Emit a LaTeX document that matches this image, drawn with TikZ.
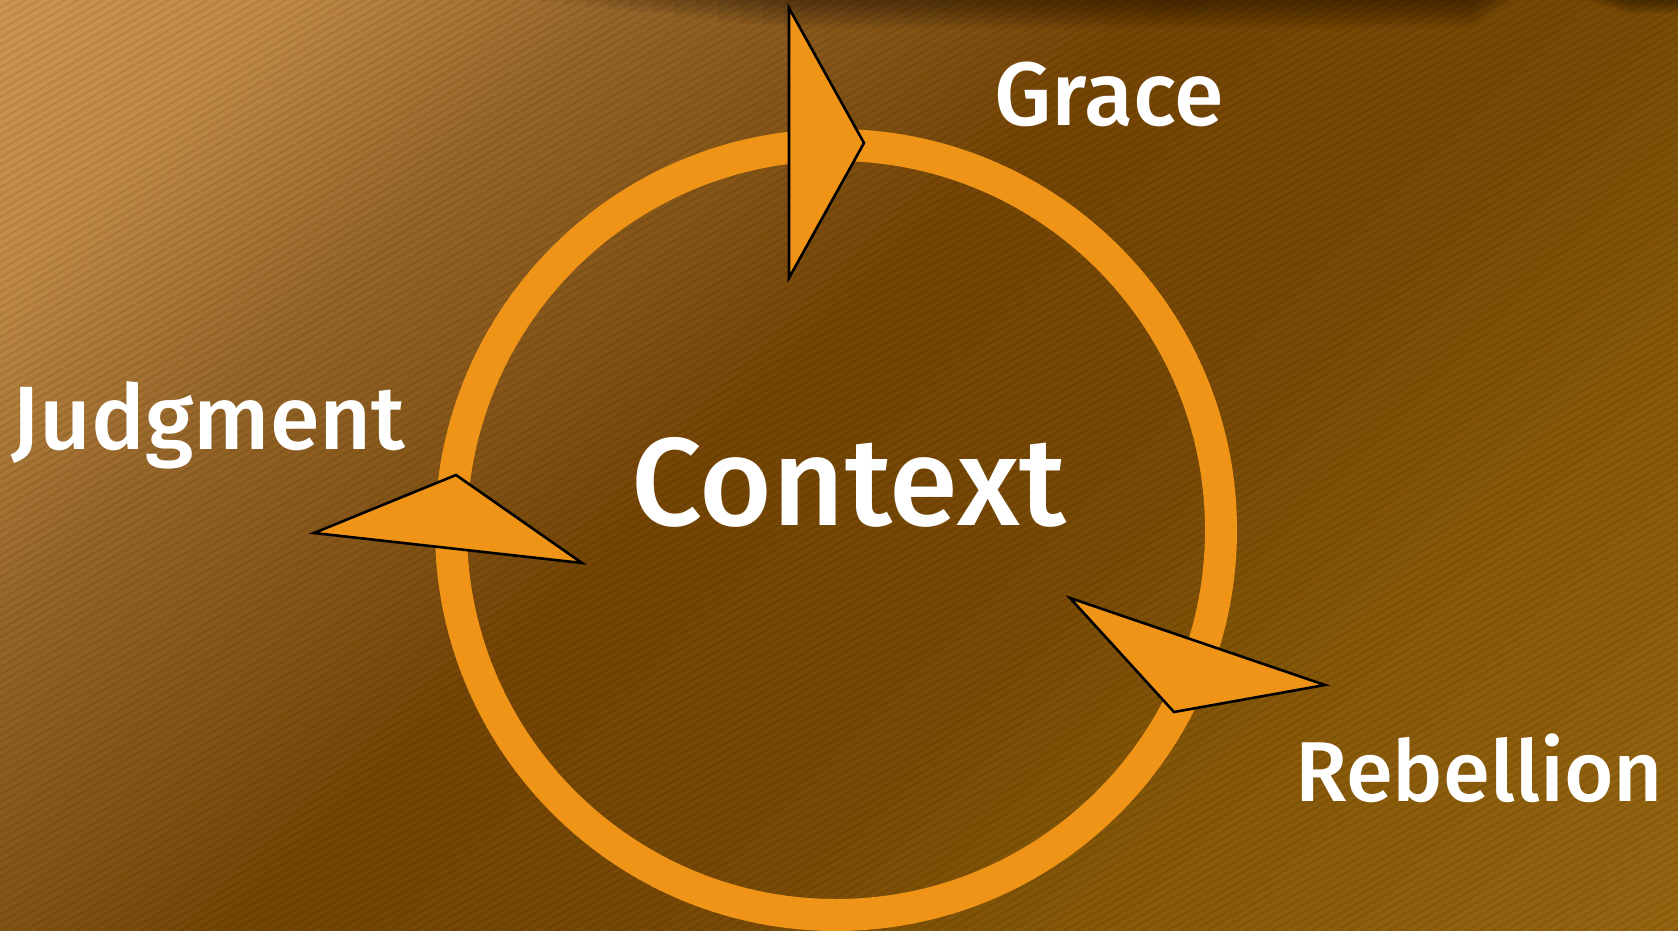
\documentclass[tikz,border=0pt]{standalone}
\usepackage{fontspec}
\setmainfont{Fira Sans}
\IfFontExistsTF{FiraSans-Medium.otf}
  {\newfontfamily\labfont{FiraSans-Medium.otf}}
  {\IfFontExistsTF{Fira Sans Medium}
    {\newfontfamily\labfont{Fira Sans Medium}}
    {\newfontfamily\labfont[FakeBold=2]{Fira Sans}}}
\definecolor{ringorange}{RGB}{239,148,22}
\definecolor{bgA}{HTML}{CC9650}
\definecolor{bgB}{HTML}{C08A45}
\definecolor{bgC}{HTML}{946428}
\definecolor{bgD}{HTML}{845416}
\definecolor{bgE}{HTML}{744505}
\definecolor{bgF}{HTML}{784A06}
\definecolor{bgG}{HTML}{865808}
\definecolor{bgH}{HTML}{966612}
\begin{document}
\begin{tikzpicture}[x=0.5pt,y=-0.5pt,
  stripe/.style={black, opacity=0.07, line width=1.2pt},
  shadowband/.style={black, opacity=0.035},
  ringstyle/.style={circle, draw=ringorange, line width=16pt, minimum size=385pt, inner sep=0pt},
  tri/.style={fill=ringorange, draw=black, line width=1.3pt},
  lab/.style={text=white, inner sep=0pt, anchor=base west, font=\labfont\fontsize{45}{54}\selectfont},
  centrelab/.style={text=white, inner sep=0pt, anchor=base west, font=\labfont\fontsize{62.4}{70}\selectfont}]
\useasboundingbox (0,0) rectangle (1678,931);
% background gradient
\begin{scope}
\clip (0,0) rectangle (1678,931);
\foreach \sa/\sb/\ca/\cb in {0/283/bgA/bgB, 283/636/bgB/bgC, 636/919/bgC/bgD, 919/1160/bgD/bgE, 1160/1626/bgE/bgF, 1626/1980/bgF/bgG, 1980/2624/bgG/bgH}{
  \pgfmathtruncatemacro\n{(\sb-\sa)/8}
  \foreach \i in {0,...,\n}{
    \pgfmathsetmacro\s{\sa+\i*8}
    \pgfmathtruncatemacro\t{100*\i/\n}
    \fill[\cb!\t!\ca] (\s+60,-60) -- (\s+70,-60) -- (\s-1000,1010) -- (\s-1010,1010) -- cycle;
  }
}
\foreach \c in {0,7.5,...,1905}{
  \draw[stripe] (0,\c) -- (1678,\c-969);
}
% soft shadow along the top edge
\foreach \k in {1,...,12}{
  \fill[shadowband] (520+\k*22,0) rectangle (1520-\k*4,2.4*\k);
  \fill[shadowband] (1580+\k*4,0) rectangle (1690,1.2*\k);
}
\end{scope}
% ring
\node[ringstyle] (ring) at (836,530) {};
% arrow heads
\coordinate (g1) at (789,8);
\coordinate (g2) at (864,143);
\coordinate (g3) at (789,278);
\coordinate (j1) at (314,533);
\coordinate (j2) at (456,475);
\coordinate (j3) at (582,563);
\coordinate (r1) at (1070,598);
\coordinate (r2) at (1325,685);
\coordinate (r3) at (1174,712);
\draw[tri] (g1) -- (g2) -- (g3) -- cycle;
\draw[tri] (j1) -- (j2) -- (j3) -- cycle;
\draw[tri] (r1) -- (r2) -- (r3) -- cycle;
% labels
\node[lab] (grace) at (994,126) {Grace};
\node[lab] (judgment) at (11,449) {Judgment};
\node[lab, font=\labfont\fontsize{42.5}{52}\selectfont] (rebellion) at (1295,801) {Rebellion};
\node[centrelab] (context) at (631,525) {Context};
\end{tikzpicture}
\end{document}
